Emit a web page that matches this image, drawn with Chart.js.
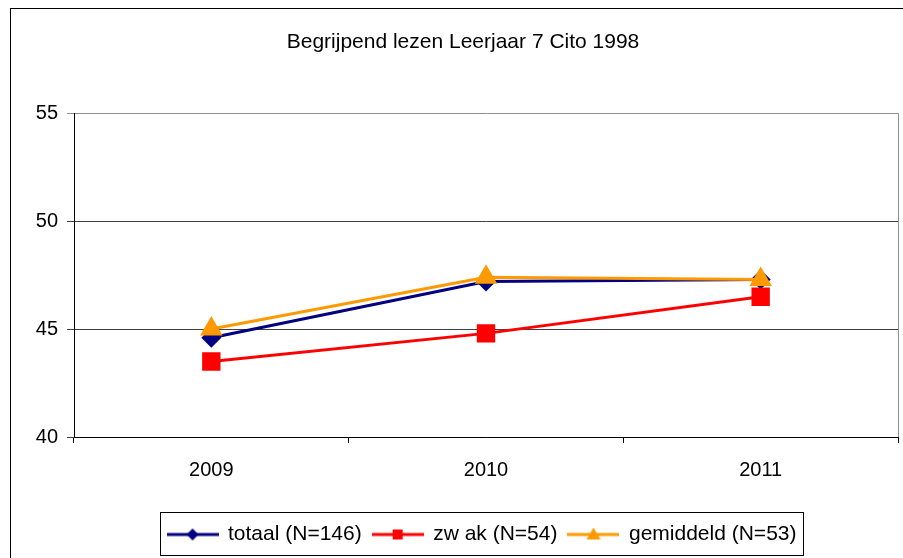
<!DOCTYPE html>
<html>
<head>
<meta charset="utf-8">
<script src="https://cdn.jsdelivr.net/npm/chart.js@4/dist/chart.umd.min.js"></script>
<style>
  html, body { margin: 0; padding: 0; background: #fff; }
  #wrap { width: 903px; height: 558px; }
</style>
</head>
<body>
<div id="wrap"><canvas id="chart" width="903" height="558"></canvas></div>
<script>
// data
const years     = ['2009', '2010', '2011'];
const totaal    = [44.6, 47.2, 47.3];
const zwak      = [43.5, 44.8, 46.5];
const gemiddeld = [45.0, 47.4, 47.3];
const yTicks    = [40, 45, 50, 55];
const labels    = ['totaal (N=146)', 'zw ak (N=54)', 'gemiddeld (N=53)'];

const FONT = 'Arial, "Liberation Sans", sans-serif';
const navy = '#000080', red = '#ff0000', orange = '#ff9900';

// little line+marker icon for the legend
function legendIcon(color, shape) {
  const c = document.createElement('canvas');
  c.width = 52; c.height = 14;
  const g = c.getContext('2d');
  g.strokeStyle = color; g.lineWidth = 3;
  g.beginPath(); g.moveTo(0, 7); g.lineTo(52, 7); g.stroke();
  g.fillStyle = color;
  g.beginPath();
  if (shape === 'diamond') {
    g.moveTo(26, 1); g.lineTo(32, 7); g.lineTo(26, 13); g.lineTo(20, 7);
  } else if (shape === 'square') {
    g.rect(21, 2, 10, 10);
  } else {
    g.moveTo(26, 0); g.lineTo(33, 12); g.lineTo(19, 12);
  }
  g.closePath(); g.fill();
  return c;
}
const icons = [legendIcon(navy, 'diamond'), legendIcon(red, 'square'), legendIcon(orange, 'tri')];

// outer frame, plot frame, legend box and centring of title/legend
const framePlugin = {
  id: 'frame',
  afterLayout(chart) {
    const t = chart.titleBlock, l = chart.legend;
    if (t) { t.left += 14; t.right += 14; }
    if (l) { l.left += 33; l.right += 33; }
  },
  beforeDatasetsDraw(chart) {
    const {ctx, chartArea: a} = chart;
    ctx.save();
    ctx.strokeStyle = '#909090';
    ctx.lineWidth = 1;
    ctx.beginPath();
    ctx.moveTo(Math.round(a.right) + 0.5, a.top);
    ctx.lineTo(Math.round(a.right) + 0.5, a.bottom);
    ctx.stroke();
    ctx.restore();
  },
  afterDraw(chart) {
    const ctx = chart.ctx;
    ctx.save();
    ctx.strokeStyle = '#000';
    ctx.lineWidth = 1;
    ctx.strokeRect(10.5, 8.5, 2000, 2000);
    const l = chart.legend;
    const pad = l.options.labels.padding;
    const x0 = (l.left + pad + l.right - l.lineWidths[0]) / 2;
    const w = l.lineWidths[0] - pad;
    ctx.strokeRect(Math.round(x0 - 8) + 0.5, 512.5, Math.round(w + 14), 43);
    ctx.restore();
  }
};

const series = [totaal, zwak, gemiddeld];
const colors = [navy, red, orange];
const styles = ['rectRot', 'rect', 'triangle'];
const radii  = [10, 13, 13];

new Chart(document.getElementById('chart'), {
  type: 'line',
  data: {
    labels: years,
    datasets: series.map((d, i) => ({
      label: labels[i],
      data: d,
      borderColor: colors[i],
      backgroundColor: colors[i],
      borderWidth: 3,
      pointStyle: styles[i],
      pointRadius: radii[i],
      pointBorderWidth: 0,
      tension: 0,
      order: 2 - i
    }))
  },
  options: {
    responsive: false,
    animation: false,
    events: [],
    layout: { autoPadding: false, padding: { left: 0, right: 5, top: 0, bottom: 3 } },
    plugins: {
      tooltip: { enabled: false },
      title: {
        display: true,
        text: 'Begrijpend lezen Leerjaar 7 Cito 1998',
        color: '#000',
        font: { family: FONT, size: 21, weight: 'normal' },
        padding: { top: 30, bottom: 58 }
      },
      legend: {
        position: 'bottom',
        labels: {
          color: '#000',
          font: { family: FONT, size: 21 },
          usePointStyle: true,
          pointStyleWidth: 50,
          padding: 11,
          sort: (a, b) => a.datasetIndex - b.datasetIndex,
          generateLabels: (chart) => chart.data.datasets.map((ds, i) => ({
            text: ds.label,
            datasetIndex: i,
            pointStyle: icons[i],
            fillStyle: ds.borderColor,
            strokeStyle: ds.borderColor,
            lineWidth: 0,
            fontColor: '#000'
          }))
        }
      }
    },
    scales: {
      x: {
        offset: true,
        grid: { offset: true, drawOnChartArea: false, color: '#000', tickLength: 6 },
        border: { color: '#000', width: 1 },
        ticks: { color: '#000', font: { family: FONT, size: 20 }, padding: 15, maxRotation: 0 },
        afterFit: (s) => { s.height = 76; s.paddingLeft = 0; s.paddingRight = 0; }
      },
      y: {
        min: 40,
        max: 55,
        afterBuildTicks: (s) => { s.ticks = yTicks.map(v => ({ value: v })); },
        grid: {
          color: (c) => (c.tick && c.tick.value === 55 ? '#909090' : '#404040'),
          tickLength: 7
        },
        border: { color: '#000', width: 1 },
        ticks: { color: '#000', font: { family: FONT, size: 20 }, padding: 9 },
        afterFit: (s) => { s.width = 74; }
      }
    }
  },
  plugins: [framePlugin]
});
</script>
</body>
</html>
